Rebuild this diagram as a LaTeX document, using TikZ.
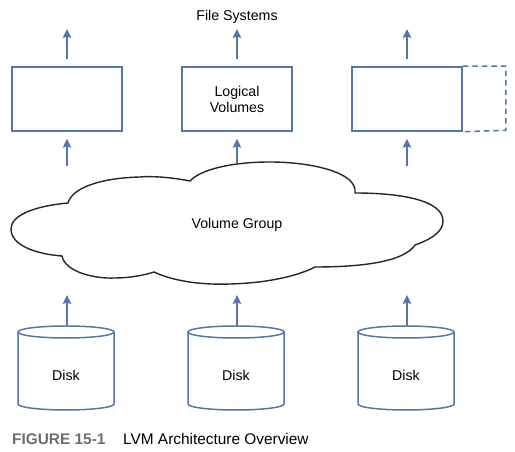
\documentclass[tikz,border=0pt]{standalone}
\usepackage{fontspec}
\setmainfont{Liberation Sans}
\usetikzlibrary{arrows.meta,calc}
\definecolor{lvmblue}{RGB}{84,118,171}
\definecolor{capgray}{RGB}{110,110,110}
\tikzset{
  lbl/.style={font=\fontsize{14.2pt}{16pt}\selectfont, inner sep=0pt, align=center},
  lvbox/.style={draw=lvmblue, line width=1.5pt, minimum width=110pt, minimum height=64pt, inner sep=0pt, font=\fontsize{14.2pt}{16pt}\selectfont, align=center},
  arr/.style={draw=lvmblue, line width=1.5pt, -{Stealth[length=9pt,width=8.5pt,inset=1.5pt]}},
  disk/.style={draw=lvmblue, line width=1.5pt},
  cloudline/.style={draw=black!85, line width=1.4pt, fill=white},
  captext/.style={font=\fontsize{15.4pt}{17pt}\selectfont, inner sep=0pt, anchor=base west}
}
\begin{document}
\begin{tikzpicture}[x=1pt,y=1pt]
\useasboundingbox (0,0) rectangle (515,452);
% File Systems label
\node[lbl] (fs) at (237,435) {File Systems};
% Logical volume boxes
\node[lvbox] (b1) at (67,353) {};
\node[lvbox] (b2) at (237,353) {Logical\\Volumes};
\node[lvbox] (b3) at (407,353) {};
\draw[disk, dashed, dash pattern=on 5.5pt off 4pt] (b3.north east) -- ++(43,0) -- ++(0,-64) -- (b3.south east);
% top arrows
\coordinate (t1) at (67,423);
\coordinate (t2) at (237,423);
\coordinate (t3) at (407,423);
\draw[arr, shorten <=7pt] (b1.north) -- (t1);
\draw[arr, shorten <=7pt] (b2.north) -- (t2);
\draw[arr, shorten <=7pt] (b3.north) -- (t3);
% cloud-to-box arrows
\coordinate (c1) at (67,286);
\coordinate (c2) at (237,289);
\coordinate (c3) at (407,286);
\draw[arr, shorten >=7pt] (c1) -- (b1.south);
\draw[arr, shorten >=7pt] (c2) -- (b2.south);
\draw[arr, shorten >=7pt] (c3) -- (b3.south);
% cloud
\draw[cloudline] (68,249) .. controls (35,246) and (11,237) .. (11,223)
  .. controls (11,207) and (35,198) .. (62,196)
  .. controls (65,180) and (95,173) .. (115,174)
  .. controls (130,174) and (145,177) .. (154,180)
  .. controls (175,170) and (205,167) .. (230,168)
  .. controls (270,169) and (300,177) .. (315,185)
  .. controls (370,185) and (405,192) .. (415,207)
  .. controls (435,214) and (443,222) .. (443,231)
  .. controls (443,252) and (400,259) .. (355,259)
  .. controls (358,280) and (310,290) .. (270,290)
  .. controls (230,290) and (200,282) .. (190,271)
  .. controls (170,275) and (150,276) .. (140,275)
  .. controls (100,274) and (72,264) .. (68,249) -- cycle;
\node[lbl] (vg) at (237,227) {Volume Group};
% disks
\foreach \n/\x in {1/66,2/236,3/406}{
  \coordinate (dc\n) at (\x,77);
  \draw[disk, fill=white] ($(dc\n)+(-48,43)$) -- ($(dc\n)+(-48,-29)$)
     arc[start angle=180,end angle=360,x radius=48,y radius=6]
     -- ($(dc\n)+(48,43)$);
  \draw[disk] ($(dc\n)+(0,43)$) ellipse[x radius=48,y radius=6];
  \node[lbl] (d\n) at (dc\n) {Disk};
  \coordinate (dt\n) at ($(dc\n)+(1,49)$);
  \coordinate (v\n) at ($(dc\n)+(1,80)$);
  \draw[arr] (dt\n) -- (v\n);
}
% caption
\node[captext, text=capgray, font=\fontsize{15.4pt}{17pt}\selectfont\bfseries] (fig) at (12,7) {FIGURE 15-1};
\node[captext] (title) at (123,7) {LVM Architecture Overview};
\end{tikzpicture}
\end{document}
